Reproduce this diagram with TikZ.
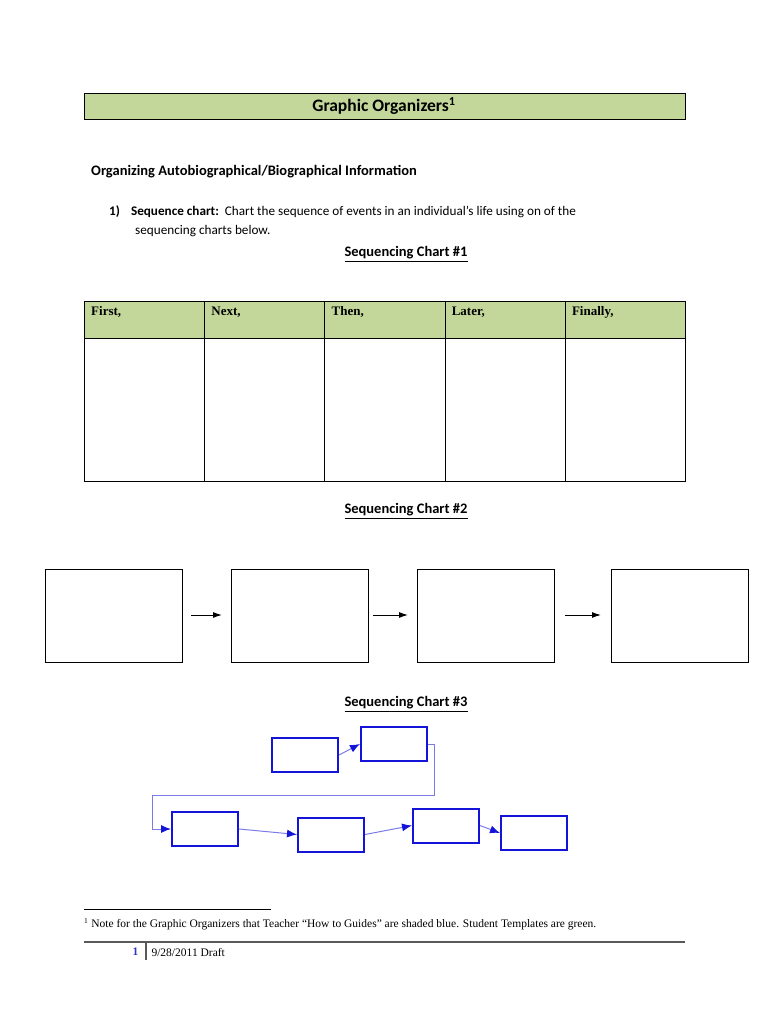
\documentclass[tikz,border=0pt]{standalone}
\usepackage{fontspec}
\setmainfont{Carlito}
\newfontfamily\tnr{Liberation Serif}
\usetikzlibrary{arrows.meta}
\definecolor{hdrgreen}{HTML}{C4D79B}
\definecolor{bxblue}{HTML}{1414D8}
\definecolor{lnblue}{HTML}{7B7BE8}
\begin{document}
\begin{tikzpicture}[x=1pt,y=-1pt,
  cell/.style={draw,line width=0.9pt},
  hdr/.style={draw,line width=0.9pt,fill=hdrgreen},
  sbox/.style={draw,line width=1pt,minimum width=137pt,minimum height=93pt,inner sep=0},
  bbox/.style={draw=bxblue,line width=2pt,minimum width=66pt,minimum height=34pt,inner sep=0},
  blink/.style={lnblue,line width=1pt,-{Latex[length=10pt,width=8pt,color=bxblue]}},
  karr/.style={line width=1pt,-{Latex[length=9pt,width=6pt]}},
  hd/.style={font=\tnr\bfseries\fontsize{13}{15}\selectfont,anchor=base west,inner sep=0}]
\useasboundingbox (0,0) rectangle (768,1024);
\node[hdr,minimum width=601pt,minimum height=26pt,inner sep=0,anchor=north west] (title) at (84,93) {};
\node[font=\bfseries\fontsize{17.5}{20}\selectfont] (tt) at (384,106) {Graphic Organizers\textsuperscript{1}};
\node[font=\bfseries\fontsize{14.5}{17}\selectfont,anchor=west,inner sep=0] (h1) at (91,172) {Organizing Autobiographical/Biographical Information};
\node[font=\fontsize{13.2}{19}\selectfont,anchor=north west,inner sep=0,align=left] (p1) at (109,206)
 {\textbf{1)}\hspace{11pt}\textbf{Sequence chart:}\ \ Chart the sequence of events in an individual’s life using on of the\\
 \hspace{26pt}sequencing charts below.};
\node[font=\bfseries\fontsize{14.5}{17}\selectfont] (s1) at (406,254) {\underline{Sequencing Chart \#1}};
\foreach \i/\t in {0/{First,},1/{Next,},2/{Then,},3/{Later,},4/{Finally,}}{
  \pgfmathsetmacro\xa{84+120.2*\i}
  \node[hdr,minimum width=120.2pt,minimum height=37pt,inner sep=0,anchor=north west] (h\i) at (\xa,301) {};
  \node[cell,minimum width=120.2pt,minimum height=143pt,inner sep=0,anchor=north west] (c\i) at (\xa,338) {};
  \node[hd] (ht\i) at (\xa+7,315) {\t};
}
\node[font=\bfseries\fontsize{14.5}{17}\selectfont] (s2) at (406,511) {\underline{Sequencing Chart \#2}};
\node[sbox] (a1) at (113.5,615.5) {};
\node[sbox] (a2) at (300,615.5) {};
\node[sbox] (a3) at (485.5,615.5) {};
\node[sbox] (a4) at (679.5,615.5) {};
\coordinate (e1a) at (191,615); \coordinate (e1b) at (222,615);
\coordinate (e2a) at (373,615); \coordinate (e2b) at (408,615);
\coordinate (e3a) at (565,615); \coordinate (e3b) at (601,615);
\draw[karr] (e1a) -- (e1b);
\draw[karr] (e2a) -- (e2b);
\draw[karr] (e3a) -- (e3b);
\node[font=\bfseries\fontsize{14.5}{17}\selectfont] (s3) at (406,704) {\underline{Sequencing Chart \#3}};
\node[bbox] (b1) at (305,755) {};
\node[bbox] (b2) at (394,744) {};
\node[bbox] (b3) at (205,829) {};
\node[bbox] (b4) at (331,834.5) {};
\node[bbox] (b5) at (446,825.5) {};
\node[bbox] (b6) at (534,833) {};
\draw[blink] (b1.east) -- (b2.west);
\draw[blink] (b2.east) -- ++(6,0) |- (152,795) |- (b3.west);
\draw[blink] (b3.east) -- (b4.west);
\draw[blink] (b4.east) -- (b5.west);
\draw[blink] (b5.east) -- (b6.west);
\coordinate (fl1) at (84,909); \coordinate (fl2) at (271,909);
\draw[line width=0.8pt] (fl1) -- (fl2);
\node[font=\tnr\fontsize{11.5}{13}\selectfont,anchor=west,inner sep=0] (fn) at (84,924)
 {\textsuperscript{\fontsize{7.5}{8}\selectfont 1} Note for the Graphic Organizers that Teacher “How to Guides” are shaded blue. Student Templates are green.};
\coordinate (rl1) at (84,942); \coordinate (rl2) at (685,942);
\draw[line width=1.5pt,gray!70!black] (rl1) -- (rl2);
\coordinate (vl1) at (146,943); \coordinate (vl2) at (146,960);
\draw[line width=1.5pt,gray!70!black] (vl1) -- (vl2);
\node[font=\tnr\bfseries\fontsize{11.5}{13}\selectfont,text=blue!60!gray,anchor=east] (pg) at (142,952) {1};
\node[font=\tnr\fontsize{11.5}{13}\selectfont,anchor=west] (dt) at (148,952) {9/28/2011 Draft};
\end{tikzpicture}
\end{document}
